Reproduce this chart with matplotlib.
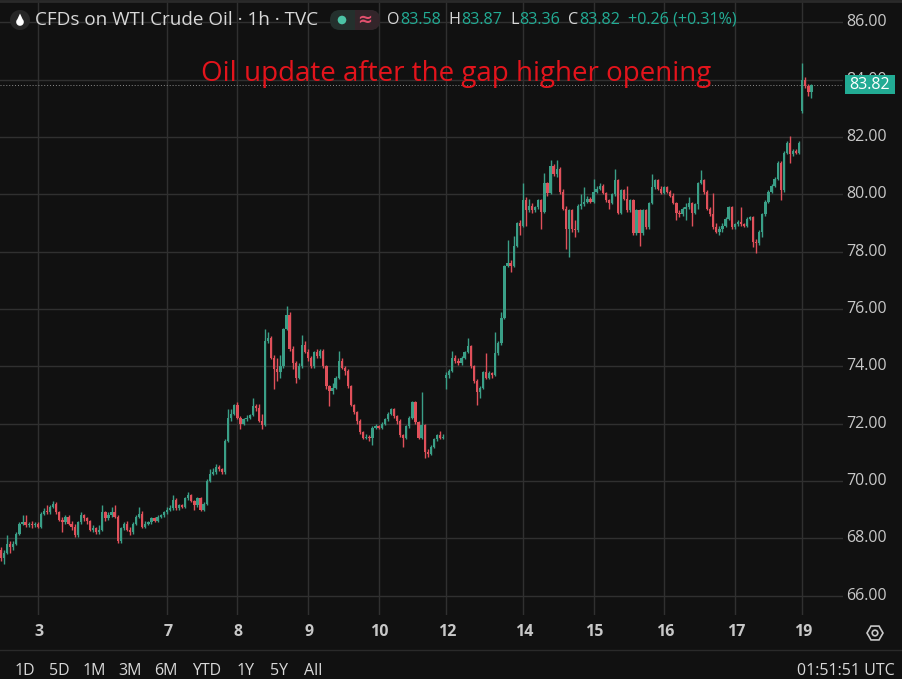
import matplotlib
matplotlib.use("Agg")
import matplotlib.pyplot as plt
from matplotlib.patches import FancyBboxPatch, Circle, RegularPolygon, Rectangle, Polygon
import numpy as np

# ---------------- data (1h candles) ----------------
opens = [
    67.6, 67.3, 67.5, 67.8, 67.7, 67.8, 68.15, 68.5, 68.55, 68.45,
    68.5, 68.45, 68.5, 68.4, 68.85, 68.95, 68.9, 69.1, 69.2, 68.9,
    68.65, 68.55, 68.75, 68.5, 68.4, 68.1, 68.55, 68.8, 68.7, 68.6,
    68.3, 68.35, 68.2, 68.3, 68.9, 68.7, 68.8, 68.9, 68.75, 67.9,
    68.35, 68.5, 68.3, 68.2, 68.5, 68.75, 68.85, 68.4, 68.5, 68.55,
    68.7, 68.6, 68.75, 68.8,
    68.9, 69.0, 69.05, 69.35, 69.05, 69.15, 69.1, 69.4, 69.5, 69.3, 69.15, 69.4, 69.0, 69.2, 70.0, 70.25, 70.3, 70.5, 70.4, 70.3, 71.4, 72.2, 72.35,
    72.65, 72.2, 72.0, 72.15, 72.2, 72.3, 72.6, 72.55, 72.1, 71.95, 74.9, 75.0, 74.3, 73.9, 73.8, 74.0, 75.3, 75.8, 74.6, 74.1, 73.6, 74.0, 74.75,
    74.5, 74.3, 74.0, 74.5, 74.35, 74.55, 74.0, 73.3, 73.15, 73.25, 73.6, 74.2, 73.95, 73.85, 73.3, 72.65, 72.4, 72.1, 71.7, 71.5, 71.55, 71.5, 71.85,
    71.9, 71.85, 72.0, 72.15, 72.35, 72.5, 72.25, 72.1, 71.6, 71.5, 71.9, 72.2, 72.75, 72.05, 71.5, 71.95, 71.0, 70.95, 71.2, 71.45, 71.6, 71.5,
    73.6, 73.7, 73.85, 74.3, 74.2, 74.1, 74.3, 74.5, 74.7, 74.0, 73.5, 73.1, 73.25, 73.8, 73.6, 73.75, 73.7, 74.45, 74.8, 75.7, 77.5, 77.6, 77.5, 78.2, 79.0,
    78.9, 79.8, 79.45, 79.6, 79.45, 79.55, 79.8, 79.4, 80.4, 80.05, 81.0, 80.7, 80.9, 80.1, 79.5, 78.8, 79.45, 78.8, 78.75, 79.6, 79.65, 79.75, 79.85,
    79.75, 80.1, 80.2, 80.3, 80.05, 79.8, 79.7, 80.0, 80.5, 79.35, 80.15, 79.85, 79.45, 79.8, 78.65, 79.45, 78.65, 79.45, 78.85, 79.7, 80.25, 80.5, 80.2,
    80.05, 80.25, 80.1, 79.95, 79.7, 79.35, 79.3, 79.5, 79.55, 79.7, 79.35, 79.65, 80.4, 80.5, 80.1, 79.5, 79.3, 78.85, 78.7, 78.8, 78.9, 79.15, 79.55,
    78.85, 78.95, 79.05, 78.95, 78.9, 79.15, 79.2, 78.35, 78.3, 78.7, 79.3, 79.75, 80.1, 80.3, 80.55, 81.1, 80.15, 81.45, 81.8, 81.4, 81.5, 81.45,
    82.9, 84.0, 83.8, 83.58,
]
highs = [
    67.7, 67.6, 68.1, 67.9, 67.9, 68.2, 68.55, 68.8, 68.8, 68.55,
    68.6, 68.55, 68.55, 68.9, 69.05, 69.15, 69.15, 69.3, 69.25, 68.95,
    68.75, 68.8, 68.8, 68.6, 68.5, 68.6, 68.9, 68.85, 68.75, 68.65,
    68.45, 68.4, 68.45, 69.15, 68.95, 68.9, 69.1, 69.15, 68.8, 68.4,
    68.55, 68.6, 68.4, 68.55, 68.8, 69.1, 68.95, 68.6, 68.6, 68.75,
    68.75, 68.8, 68.85, 68.95,
    69.1, 69.15, 69.5, 69.4, 69.2, 69.2, 69.45, 69.6, 69.55, 69.35, 69.45, 69.45, 69.25, 70.05, 70.4, 70.45, 70.6, 70.55, 70.45, 71.45, 72.5, 72.5, 72.7,
    72.75, 72.25, 72.2, 72.3, 72.35, 72.9, 72.7, 72.7, 72.35, 75.3, 75.2, 75.05, 74.4, 74.3, 74.4, 75.35, 76.1, 75.9, 74.7, 74.2, 74.1, 75.1, 74.9,
    74.6, 74.35, 74.55, 74.6, 74.6, 74.6, 74.05, 73.35, 73.4, 73.65, 74.55, 74.3, 74.0, 73.9, 73.35, 72.7, 72.45, 72.15, 71.75, 71.65, 71.6, 71.9, 72.0,
    71.95, 72.05, 72.2, 72.4, 72.55, 72.55, 72.3, 72.15, 71.65, 71.95, 72.25, 72.8, 72.8, 72.1, 73.1, 72.0, 71.1, 71.25, 71.5, 71.65, 71.75, 71.65,
    73.8, 73.9, 74.55, 74.4, 74.3, 74.35, 74.55, 75.0, 74.75, 74.05, 73.55, 73.3, 73.85, 74.45, 73.85, 73.8, 75.2, 74.9, 75.9, 77.55, 78.4, 77.7, 78.55, 79.05, 79.1,
    80.4, 79.9, 79.85, 79.7, 79.6, 79.85, 79.85, 80.75, 80.45, 81.2, 81.05, 81.2, 80.95, 80.2, 79.6, 79.5, 79.5, 79.1, 79.65, 80.0, 80.25, 79.95, 79.9,
    80.55, 80.3, 80.4, 80.35, 80.1, 79.85, 80.05, 80.9, 80.55, 80.2, 80.2, 80.3, 79.85, 79.85, 79.5, 79.5, 79.5, 79.5, 79.75, 80.7, 80.55, 80.55, 80.3,
    80.3, 80.3, 80.15, 80.05, 79.75, 79.45, 79.55, 79.7, 79.9, 79.75, 79.7, 80.45, 80.85, 80.55, 80.15, 79.55, 80.05, 79.0, 78.9, 79.0, 79.2, 79.6, 79.6,
    79.0, 79.1, 79.55, 79.0, 79.2, 79.25, 79.25, 78.45, 78.75, 79.35, 79.8, 80.15, 80.35, 80.6, 81.15, 81.15, 81.5, 81.85, 82.05, 81.6, 81.6, 81.85,
    84.6, 84.1, 83.85, 83.87,
]
lows = [
    67.2, 67.1, 67.45, 67.5, 67.6, 67.75, 68.1, 68.45, 68.4, 68.4,
    68.35, 68.4, 68.35, 68.35, 68.8, 68.85, 68.85, 69.05, 68.85, 68.6,
    68.2, 68.5, 68.45, 68.3, 68.05, 68.05, 68.5, 68.6, 68.5, 68.25,
    68.2, 68.15, 68.15, 68.25, 68.6, 68.65, 68.75, 68.7, 67.85, 67.85,
    68.3, 68.25, 68.1, 68.15, 68.45, 68.7, 68.35, 68.35, 68.45, 68.5,
    68.55, 68.55, 68.7, 68.75,
    68.85, 68.95, 69.0, 69.0, 69.0, 69.05, 69.05, 69.35, 69.25, 69.0, 69.1, 68.95, 68.95, 69.15, 69.95, 70.2, 70.25, 70.35, 70.25, 70.25, 71.35, 72.1, 72.3,
    72.15, 71.8, 71.95, 72.1, 72.15, 72.25, 72.45, 72.05, 71.8, 71.9, 74.8, 74.25, 73.2, 73.5, 73.6, 73.95, 75.25, 74.55, 73.9, 73.4, 73.55, 73.95, 74.45,
    74.2, 73.95, 73.95, 74.3, 74.3, 73.95, 73.2, 72.6, 73.05, 73.2, 73.55, 73.9, 73.7, 73.25, 72.6, 72.35, 72.0, 71.65, 71.45, 71.45, 71.4, 71.25, 71.8,
    71.8, 71.8, 71.95, 72.1, 72.3, 72.2, 72.0, 71.55, 71.2, 71.45, 71.85, 72.15, 72.0, 71.45, 71.45, 70.8, 70.85, 70.9, 71.15, 71.4, 71.45, 71.45,
    73.2, 73.6, 73.8, 74.1, 74.05, 74.05, 74.25, 74.45, 73.95, 73.4, 72.65, 72.9, 73.2, 73.55, 73.55, 73.6, 73.65, 74.4, 74.75, 75.65, 77.45, 77.3, 77.45, 78.15, 78.6,
    78.85, 78.9, 79.4, 79.35, 79.4, 79.5, 78.8, 79.35, 79.95, 80.0, 80.65, 80.6, 80.0, 79.45, 78.1, 77.8, 78.7, 78.5, 78.7, 79.5, 79.6, 79.7, 79.7,
    79.7, 80.05, 80.15, 80.0, 79.75, 79.5, 79.65, 79.95, 79.3, 79.3, 79.8, 79.4, 79.4, 78.6, 78.6, 78.2, 78.6, 78.8, 78.8, 79.65, 80.2, 80.15, 80.0,
    80.0, 80.05, 79.9, 79.65, 79.1, 79.2, 79.25, 79.1, 79.5, 78.9, 79.3, 79.5, 80.35, 80.0, 79.45, 79.25, 78.8, 78.65, 78.6, 78.7, 78.85, 79.1, 78.8,
    78.8, 78.9, 78.9, 78.85, 78.85, 79.1, 78.15, 77.95, 78.25, 78.5, 79.25, 79.7, 80.05, 80.25, 80.5, 79.8, 80.1, 81.4, 81.1, 81.35, 81.4, 81.4,
    82.85, 83.7, 83.45, 83.36,
]
closes = [
    67.3, 67.5, 67.8, 67.7, 67.8, 68.15, 68.5, 68.55, 68.45, 68.5,
    68.45, 68.5, 68.4, 68.85, 68.95, 68.9, 69.1, 69.2, 68.9, 68.65,
    68.55, 68.75, 68.5, 68.4, 68.1, 68.55, 68.8, 68.7, 68.6, 68.3,
    68.35, 68.2, 68.3, 68.9, 68.7, 68.8, 68.9, 68.75, 67.9, 68.35,
    68.5, 68.3, 68.2, 68.5, 68.75, 68.85, 68.4, 68.5, 68.55, 68.7,
    68.6, 68.75, 68.8, 68.9,
    69.0, 69.05, 69.35, 69.05, 69.15, 69.1, 69.4, 69.5, 69.3, 69.15, 69.4, 69.0, 69.2, 70.0, 70.25, 70.3, 70.5, 70.4, 70.3, 71.4, 72.2, 72.35, 72.65,
    72.2, 72.0, 72.15, 72.2, 72.3, 72.6, 72.55, 72.1, 71.95, 74.9, 75.0, 74.3, 73.9, 73.8, 74.0, 75.3, 75.8, 74.6, 74.1, 73.6, 74.0, 74.75, 74.5,
    74.3, 74.0, 74.5, 74.35, 74.55, 74.0, 73.3, 73.15, 73.25, 73.6, 74.2, 73.95, 73.85, 73.3, 72.65, 72.4, 72.1, 71.7, 71.5, 71.55, 71.5, 71.85, 71.9,
    71.85, 72.0, 72.15, 72.35, 72.5, 72.25, 72.1, 71.6, 71.5, 71.9, 72.2, 72.75, 72.05, 71.5, 71.95, 71.0, 70.95, 71.2, 71.45, 71.6, 71.5, 71.55,
    73.7, 73.85, 74.3, 74.2, 74.1, 74.3, 74.5, 74.7, 74.0, 73.5, 73.1, 73.25, 73.8, 73.6, 73.75, 73.7, 74.45, 74.8, 75.7, 77.5, 77.6, 77.5, 78.2, 79.0, 78.9,
    79.8, 79.45, 79.6, 79.45, 79.55, 79.8, 79.4, 80.4, 80.05, 81.0, 80.7, 80.9, 80.1, 79.5, 78.8, 79.45, 78.8, 78.75, 79.6, 79.65, 79.75, 79.85, 79.75,
    80.1, 80.2, 80.3, 80.05, 79.8, 79.7, 80.0, 80.5, 79.35, 80.15, 79.85, 79.45, 79.8, 78.65, 79.45, 78.65, 79.45, 78.85, 79.7, 80.25, 80.5, 80.2, 80.05,
    80.25, 80.1, 79.95, 79.7, 79.35, 79.3, 79.5, 79.55, 79.7, 79.35, 79.65, 80.4, 80.5, 80.1, 79.5, 79.3, 78.85, 78.7, 78.8, 78.9, 79.15, 79.55, 78.85,
    78.95, 79.05, 78.95, 78.9, 79.15, 79.2, 78.35, 78.3, 78.7, 79.3, 79.75, 80.1, 80.3, 80.55, 81.1, 80.15, 81.45, 81.8, 81.4, 81.5, 81.45, 81.8,
    84.0, 83.8, 83.56, 83.82,
]
day_labels = ["3", "7", "8", "9", "10", "12", "14", "15", "16", "17", "19"]
day_start_bar = [12, 54, 77, 100, 123, 145, 170, 193, 216, 239, 261]
price_ticks = [66, 68, 70, 72, 74, 76, 78, 80, 82, 84, 86]
last_price = 83.82
title = "CFDs on WTI Crude Oil · 1h · TVC"
annotation = "Oil update after the gap higher opening"
ohlc_parts = [("O", "83.58"), ("H", "83.87"), ("L", "83.36"), ("C", "83.82")]
change_text = "+0.26 (+0.31%)"
ranges = ["1D", "5D", "1M", "3M", "6M", "YTD", "1Y", "5Y", "All"]
clock_text = "01:51:51 UTC"

# ---------------- style ----------------
BG = "#111111"
GRID = "#303030"
UP = "#3a9f87"
DOWN = "#e0505a"
TXT = "#c8c8c8"
TEAL = "#22ab94"
FONT = "Open Sans"

W, H = 903, 679
fig = plt.figure(figsize=(W / 100, H / 100), dpi=100)
fig.patch.set_facecolor(BG)

PLOT_R, PLOT_B = 843, 615
ax = fig.add_axes([0, 1 - PLOT_B / H, PLOT_R / W, PLOT_B / H])
ax.set_facecolor(BG)
ax.set_xlim(-0.33, 274.27)
ax.set_ylim(65.32, 86.785)
for s in ax.spines.values():
    s.set_visible(False)
ax.set_xticks([])
ax.set_yticks([])

for p in price_ticks:
    ax.axhline(p, color=GRID, lw=1, zorder=0)
for d in day_start_bar:
    ax.axvline(d, color=GRID, lw=1, zorder=0)

o = np.array(opens); h = np.array(highs); l = np.array(lows); c = np.array(closes)
x = np.arange(len(c))
cols = np.where(c >= o, UP, DOWN)
ax.vlines(x, l, h, colors=cols, lw=1.0, zorder=3)
ax.bar(x, np.maximum(np.abs(c - o), 0.035), bottom=np.minimum(o, c), width=0.74,
       color=cols, linewidth=0, zorder=4)

ax.axhline(last_price, color="#8c8c8c", lw=0.7, ls=(0, (1, 2)), zorder=2)

# ---------------- overlay in pixel coordinates ----------------
ov = fig.add_axes([0, 0, 1, 1], zorder=10)
ov.set_xlim(0, W)
ov.set_ylim(H, 0)
ov.axis("off")
ov.patch.set_alpha(0)

# price axis labels
for p in price_ticks:
    ypx = 22.5 + (86 - p) * 28.65
    ov.text(866.5, ypx, f"{p:.2f}", color=TXT, fontsize=11.5, family=FONT,
            ha="center", va="center", zorder=1)
ypx = 22.5 + (86 - last_price) * 28.65
ov.add_patch(Rectangle((845, ypx - 9.5), 50, 19, color=TEAL, lw=0, zorder=5))
ov.text(870, ypx, f"{last_price:.2f}", color="white", fontsize=11.5, family=FONT,
        ha="center", va="center", zorder=6)

# day labels
for lab, d in zip(day_labels, day_start_bar):
    xpx = 1 + d * 3.07
    ov.text(xpx + 1, 632, lab, color=TXT, fontsize=11.5, family=FONT,
            fontweight="bold", ha="center", va="center")

# top border / bottom separator
ov.plot([0, W], [1, 1], color="#2a2a2a", lw=2)
ov.plot([0, W], [650, 650], color="#2a2a2a", lw=1)

# header
ov.add_patch(Circle((20, 20), 10, color="#262626", lw=0))
ang = np.linspace(-np.pi * 0.25, np.pi * 1.25, 40)
pts = [(20, 13.5)] + [(20 + 3.8 * np.cos(a), 22 + 3.8 * np.sin(a)) for a in ang]
ov.add_patch(Polygon(pts, closed=True, color="white", lw=0))
ov.text(35, 20, title, color="#d8d8d8", fontsize=13.6, family=FONT,
        ha="left", va="center")
ov.add_patch(FancyBboxPatch((330, 10), 50, 20, boxstyle="round,pad=0,rounding_size=10",
                            color="#24302d", lw=0))
ov.add_patch(FancyBboxPatch((355, 10), 25, 20, boxstyle="round,pad=0,rounding_size=10",
                            color="#33252a", lw=0))
ov.add_patch(Rectangle((355, 10), 10, 20, color="#33252a", lw=0))
ov.add_patch(Circle((342, 20), 4.3, color="#4cc4a6", lw=0))
ov.text(365, 20, "≈", color="#e2506e", fontsize=13, fontweight="bold",
        ha="center", va="center", family="DejaVu Sans")

# OHLC readout laid out left to right
fig.canvas.draw()
renderer = fig.canvas.get_renderer()
inv = ov.transData.inverted()


def right_edge(t):
    bb = t.get_window_extent(renderer)
    return inv.transform((bb.x1, bb.y0))[0]


cur = 387
for k, v in ohlc_parts:
    tk = ov.text(cur, 20, k, color="#d8d8d8", fontsize=11.6, family=FONT, ha="left", va="center")
    tv = ov.text(right_edge(tk) + 0.5, 20, v, color=TEAL, fontsize=11.6, family=FONT,
                 ha="left", va="center")
    cur = right_edge(tv) + 8
ov.text(cur, 20, change_text, color=TEAL, fontsize=11.6, family=FONT, ha="left", va="center")

# annotation
ov.text(201, 74, annotation, color="#e3141c", fontsize=20, family=FONT,
        ha="left", va="center")

# gear icon
ov.add_patch(RegularPolygon((875, 633), 6, radius=8, orientation=np.pi / 6,
                            fill=False, ec="#c8c8c8", lw=1.2))
ov.add_patch(Circle((875, 633), 2.8, fill=False, ec="#c8c8c8", lw=1.2))

# bottom toolbar
range_x = [25, 59, 94, 130, 166, 207, 246, 279, 313]
for lab, rx in zip(ranges, range_x):
    ov.text(rx, 671, lab, color="#d8d8d8", fontsize=11.5, family=FONT,
            ha="center", va="center")
ov.text(895, 671, clock_text, color="#d8d8d8", fontsize=11.5, family=FONT,
        ha="right", va="center")

fig.savefig("out.png", dpi=100, facecolor=BG)
